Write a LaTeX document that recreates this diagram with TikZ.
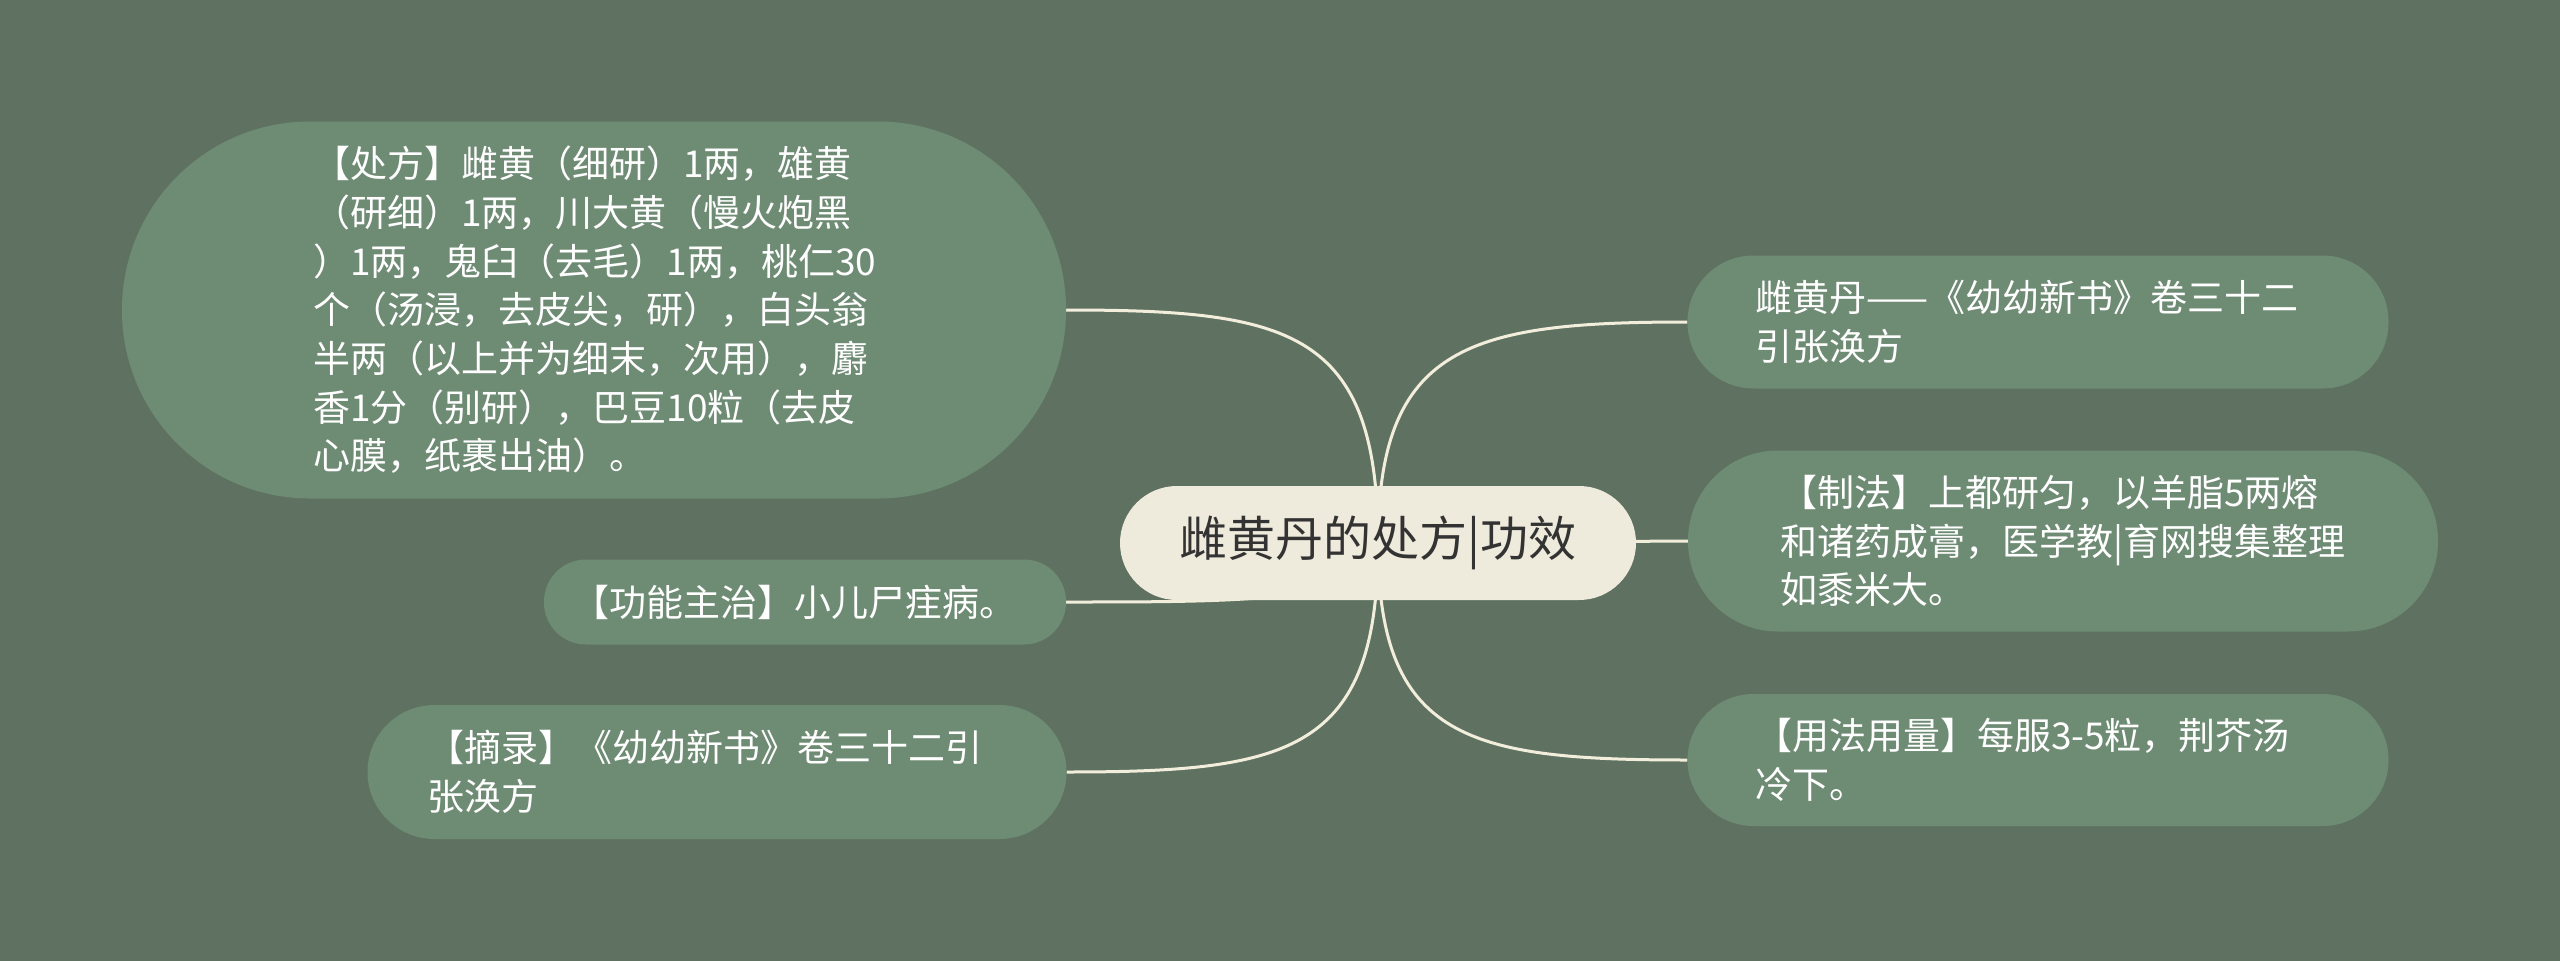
\documentclass[tikz,border=0pt]{standalone}
\usepackage{fontspec}
\setmainfont{Noto Sans CJK SC}
\usetikzlibrary{backgrounds}
\definecolor{bgc}{HTML}{5F7262}
\definecolor{nodec}{HTML}{6E8B74}
\definecolor{rootc}{HTML}{EFEBDC}
\definecolor{linec}{HTML}{F2EEDB}
\definecolor{roottext}{HTML}{333333}
\tikzset{
  leaf/.style={fill=nodec, text=white, inner sep=0pt, align=left,
    font=\fontsize{37}{48.7}\selectfont},
  rootbox/.style={fill=rootc, text=roottext, inner sep=0pt, align=center,
    font=\fontsize{48}{58}\selectfont},
  conn/.style={draw=linec, line width=3pt}
}
\begin{document}
\begin{tikzpicture}[x=1pt,y=-1pt]
\useasboundingbox (0,0) rectangle (2560,961);
\node[leaf, minimum width=944pt, minimum height=377pt, rounded corners=188pt, text width=562pt] (n1) at (594,310)
 {【处方】雌黄（细研）1两，雄黄\\（研细）1两，川大黄（慢火炮黑\\）1两，鬼臼（去毛）1两，桃仁30\\个（汤浸，去皮尖，研），白头翁\\半两（以上并为细末，次用），麝\\香1分（别研），巴豆10粒（去皮\\心膜，纸裹出油）。};
\node[leaf, minimum width=522pt, minimum height=85pt, rounded corners=42pt, text width=466pt] (n2) at (805,602)
 {【功能主治】小儿尸疰病。};
\node[leaf, minimum width=699pt, minimum height=134pt, rounded corners=67pt, text width=580pt] (n3) at (717,772)
 {【摘录】《幼幼新书》卷三十二引\\张涣方};
\node[leaf, minimum width=701pt, minimum height=133pt, rounded corners=66pt, text width=566pt] (n4) at (2038,322)
 {雌黄丹——《幼幼新书》卷三十二\\引张涣方};
\node[leaf, minimum width=750pt, minimum height=181pt, rounded corners=90pt, text width=566pt] (n5) at (2063,541)
 {【制法】上都研匀，以羊脂5两熔\\和诸药成膏，医学教|育网搜集整理\\如黍米大。};
\node[leaf, minimum width=701pt, minimum height=132pt, rounded corners=66pt, text width=566pt] (n6) at (2038,760)
 {【用法用量】每服3-5粒，荆芥汤\\冷下。};
\node[rootbox, minimum width=516pt, minimum height=114pt, rounded corners=57pt] (root) at (1378,543)
 {雌黄丹的处方|功效};
\begin{pgfonlayer}{background}
\fill[bgc] (0,0) rectangle (2560,961);
\draw[conn] (root.center) .. controls (1378,330) and (1290,310) .. (n1.east);
\draw[conn] (root.center) .. controls (1378,602) and (1250,602) .. (n2.east);
\draw[conn] (root.center) .. controls (1378,752) and (1290,772) .. (n3.east);
\draw[conn] (root.center) .. controls (1378,345) and (1470,322) .. (n4.west);
\draw[conn] (root.center) -- (n5.west);
\draw[conn] (root.center) .. controls (1378,740) and (1470,760) .. (n6.west);
\end{pgfonlayer}
\end{tikzpicture}
\end{document}
